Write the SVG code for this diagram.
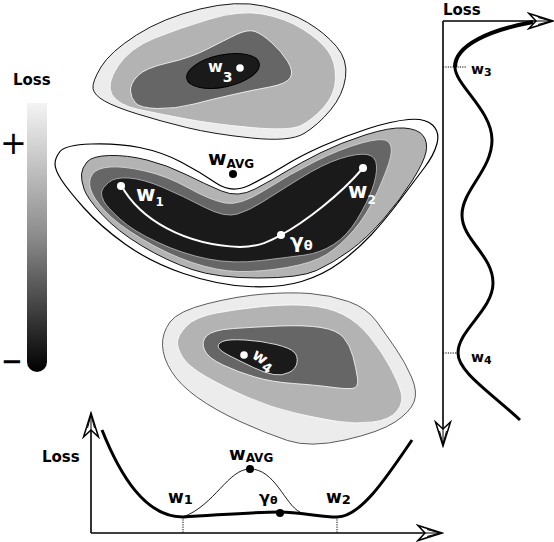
<svg xmlns="http://www.w3.org/2000/svg" width="554" height="542" viewBox="0 0 554 542">
<style>
.t{font-family:"DejaVu Sans","Liberation Sans",sans-serif;font-weight:bold;fill:#000}
.wt{fill:#fff}
.l1{fill:#ececec}
.l2{fill:#b3b3b3}
.l3{fill:#666}
.l4{fill:#1a1a1a}
.ax{fill:none;stroke:#000;stroke-width:1.6}
.dot{fill:none;stroke:#000;stroke-width:1;stroke-dasharray:1.2 1.2}
</style>
<defs>
<linearGradient id="cb" x1="0" y1="0" x2="0" y2="1">
<stop offset="0" stop-color="#f4f4f4"/>
<stop offset="0.5" stop-color="#8a8a8a"/>
<stop offset="1" stop-color="#000"/>
</linearGradient>
<marker id="arr" viewBox="-26 -9 28 18" refX="0" refY="0" markerWidth="28" markerHeight="18" markerUnits="userSpaceOnUse" orient="auto">
<path d="M0,0 L-24,-7.5 L-17,0 L-24,7.5 Z" fill="#fff" stroke="#000" stroke-width="1.5" stroke-linejoin="miter"/>
<path d="M-2,0 L-15,-3.5 M-2,0 L-15,3.5 M-2,0 L-17,0" stroke="#000" stroke-width="1"/>
</marker>
</defs>

<g id="colorbar">
<text class="t" x="13" y="85" font-size="15">Loss</text>
<path d="M27,103 H47 V362 A10,10 0 0 1 27,362 Z" fill="url(#cb)"/>
<text x="0" y="154" font-family="DejaVu Sans, sans-serif" font-size="32">+</text>
<text x="1" y="370" font-family="DejaVu Sans, sans-serif" font-weight="bold" font-size="26">−</text>
</g>

<g id="basin-w3">
<path class="l1" stroke="#000" stroke-width="0.9" d="M101,67 Q110,52 136.5,35 Q163,18 200,9 Q237,0 263.5,6 Q290,12 307.5,22.5 Q325,33 336.5,46.5 Q348,60 345.5,77.5 Q343,95 330.5,110 Q318,125 304,133.5 Q290,142 251.5,138 Q213,134 186.5,127.5 Q160,121 137.5,114 Q115,107 104.5,101 Q94,95 93,88.5 Q92,82 101,67 Z"/>
<path class="l2" stroke="#fff" stroke-width="0.8" d="M118,66 Q130,48 155,38 Q180,28 210,19 Q240,10 262.5,14 Q285,18 302.5,29 Q320,40 328,51 Q336,62 335.5,78.5 Q335,95 323.5,107.5 Q312,120 301,125.5 Q290,131 251.5,127.5 Q213,124 186.5,119 Q160,114 139,109.5 Q118,105 112,94.5 Q106,84 118,66 Z"/>
<path class="l3" stroke="#fff" stroke-width="0.8" d="M137.5,76 Q145,68 167.5,63 Q190,58 207.5,49 Q225,40 236.5,34.5 Q248,29 255,31.5 Q262,34 272,43 Q282,52 288,62 Q294,72 290,78 Q286,84 269.5,87 Q253,90 233,94.5 Q213,99 194,104 Q175,109 157.5,108.5 Q140,108 135.5,103 Q131,98 130.5,91 Q130,84 137.5,76 Z"/>
<ellipse class="l4" cx="223" cy="71" rx="37" ry="16" transform="rotate(-12 223 71)" stroke="#000" stroke-width="1"/>
<circle cx="240" cy="68" r="3.8" fill="#fff"/>
<text class="t wt" x="208" y="72" font-size="16">w<tspan font-size="14" dy="10">3</tspan></text>
</g>

<g id="basin-w1-w2">
<path fill="#fff" stroke="#000" stroke-width="1.2" d="M60,151.5 Q65,145 91,144 Q117,143 139.5,147.5 Q162,152 181,162 Q200,172 216,183 Q232,194 250,185 Q268,176 284,166 Q300,156 322.5,146 Q345,136 368.5,128.5 Q392,121 408.5,119.5 Q425,118 432.5,125 Q440,132 437,143.5 Q434,155 424.5,167.5 Q415,180 400,200 Q385,220 371,235 Q357,250 340,262.5 Q323,275 301.5,281.5 Q280,288 248.5,286.5 Q217,285 183.5,273.5 Q150,262 125,244 Q100,226 84,208 Q68,190 61.5,180 Q55,170 55,164 Q55,158 60,151.5 Z"/>
<path class="l2" stroke="#000" stroke-width="0.9" d="M87,162 Q92,156 109.5,155.5 Q127,155 147,160 Q167,165 186,174.5 Q205,184 221.5,191 Q238,198 255,189 Q272,180 286,171.5 Q300,163 320,153 Q340,143 365,135 Q390,127 404,128 Q418,129 423,135.5 Q428,142 426,152 Q424,162 412,181 Q400,200 383.5,219 Q367,238 350,250.5 Q333,263 316.5,270.5 Q300,278 258.5,278 Q217,278 192,269.5 Q167,261 142,246 Q117,231 102,214.5 Q87,198 84,189 Q81,180 81.5,174 Q82,168 87,162 Z"/>
<path class="l3" stroke="#ddd" stroke-width="0.8" d="M92.5,174 Q97,168 110,167 Q123,166 145,171 Q167,176 188.5,188 Q210,200 225,203 Q240,206 265,190 Q290,174 315,161.5 Q340,149 361.5,143 Q383,137 388,141.5 Q393,146 390.5,157 Q388,168 377.5,191.5 Q367,215 353.5,230.5 Q340,246 326.5,254.5 Q313,263 286.5,267.5 Q260,272 238.5,271.5 Q217,271 192,262.5 Q167,254 142,239 Q117,224 105,211 Q93,198 90.5,189 Q88,180 92.5,174 Z"/>
<path class="l4" stroke="#bbb" stroke-width="0.8" d="M108.5,182.5 Q115,177 129,178 Q143,179 163,187.5 Q183,196 204,207 Q225,218 237.5,214 Q250,210 262.5,202 Q275,194 299,179 Q323,164 340.5,158.5 Q358,153 367,154.5 Q376,156 376.5,166 Q377,176 372,189.5 Q367,203 357,219.5 Q347,236 333.5,244.5 Q320,253 305,255 Q290,257 261.5,260.5 Q233,264 208,259 Q183,254 158,242.5 Q133,231 120,219 Q107,207 104,201.5 Q101,196 101.5,192 Q102,188 108.5,182.5 Z"/>
<path d="M121,185 C140,220 185,245 240,247 C260,247 272,240 281,235 C305,222 340,195 363,168" fill="none" stroke="#fff" stroke-width="2"/>
<circle cx="121" cy="186" r="4" fill="#fff"/>
<circle cx="363" cy="168" r="4" fill="#fff"/>
<circle cx="281" cy="235" r="4" fill="#fff"/>
<text class="t wt" x="136" y="201" font-size="21">w<tspan font-size="12" dy="5">1</tspan></text>
<text class="t wt" x="348" y="198" font-size="21">w<tspan font-size="12" dy="6">2</tspan></text>
<text class="t wt" x="290" y="248" font-size="20">γ<tspan font-size="13" dy="2">θ</tspan></text>
<text class="t" x="208" y="165" font-size="20">w<tspan font-size="12" dy="3">AVG</tspan></text>
<circle cx="233" cy="174" r="4" fill="#000"/>
</g>

<g id="basin-w4">
<path class="l1" stroke="#333" stroke-width="0.8" d="M170,322 Q178,311 208,303.5 Q238,296 264,294 Q290,292 310,293.5 Q330,295 348.5,301.5 Q367,308 377,322 Q387,336 396,349 Q405,362 411.5,377 Q418,392 414,402 Q410,412 395,422 Q380,432 345,440 Q310,448 287.5,440.5 Q265,433 240,421.5 Q215,410 197.5,397.5 Q180,385 171.5,371.5 Q163,358 162.5,345.5 Q162,333 170,322 Z"/>
<path class="l2" stroke="#fff" stroke-width="0.8" d="M186.5,326 Q195,317 216.5,313 Q238,309 263,306.5 Q288,304 308,305.5 Q328,307 343,314.5 Q358,322 370,337 Q382,352 390,367 Q398,382 401,392 Q404,402 397,411 Q390,420 372.5,422 Q355,424 338.5,421.5 Q322,419 297,413.5 Q272,408 247,397 Q222,386 205,376 Q188,366 182.5,357 Q177,348 177.5,341.5 Q178,335 186.5,326 Z"/>
<path class="l3" stroke="#fff" stroke-width="0.8" d="M206.5,336 Q212,330 233.5,328.5 Q255,327 280,326 Q305,325 321,327.5 Q337,330 343.5,337.5 Q350,345 353,356.5 Q356,368 357.5,378 Q359,388 352,388.5 Q345,389 330,387 Q315,385 293.5,383.5 Q272,382 255,377 Q238,372 223,365 Q208,358 204.5,350 Q201,342 206.5,336 Z"/>
<path class="l4" stroke="#fff" stroke-width="0.8" d="M222.5,341.5 Q228,339 245,340 Q262,341 276,344.5 Q290,348 294,352 Q298,356 297,362.5 Q296,369 289,372.5 Q282,376 273.5,374.5 Q265,373 253.5,367.5 Q242,362 231,356.5 Q220,351 218.5,347.5 Q217,344 222.5,341.5 Z"/>
<circle cx="244" cy="355" r="3.8" fill="#fff"/>
<text class="t wt" font-size="16" transform="translate(251,357) rotate(35)">w<tspan font-size="13" dy="4">4</tspan></text>
</g>

<g id="plot-right">
<text class="t" x="443" y="15" font-size="15">Loss</text>
<line class="ax" x1="443" y1="21" x2="443" y2="446" marker-end="url(#arr)"/>
<line class="ax" x1="443" y1="21" x2="553" y2="21" marker-end="url(#arr)"/>
<path d="M520,420 C490,392 458,372 458,353 C458,330 493,310 493,283 C493,255 462,240 462,215 C462,190 492,170 492,140 C492,110 455,85 455,67" fill="none" stroke="#000" stroke-width="3"/>
<path d="M455,67 C455,45 490,30 533,22" fill="none" stroke="#000" stroke-width="4"/>
<line class="dot" x1="443" y1="67" x2="467" y2="67"/>
<line class="dot" x1="443" y1="353" x2="460" y2="353"/>
<text class="t" x="471" y="74" font-size="14">w<tspan font-size="11" dy="2">3</tspan></text>
<text class="t" x="471" y="362" font-size="14">w<tspan font-size="11" dy="2">4</tspan></text>
</g>

<g id="plot-bottom">
<text class="t" x="42" y="462" font-size="15">Loss</text>
<line class="ax" x1="91" y1="533" x2="91" y2="413" marker-end="url(#arr)"/>
<line class="ax" x1="91" y1="533" x2="442" y2="533" marker-end="url(#arr)"/>
<path d="M183,517 C215,505 228,469 250,469 C275,469 285,505 300,512" fill="none" stroke="#000" stroke-width="0.9"/>
<path d="M102,430 C120,475 145,517 183,517 C220,515 250,512 280,512 C300,512 320,517 337,517 C360,517 385,480 412,440" fill="none" stroke="#000" stroke-width="3"/>
<line class="dot" x1="183" y1="517" x2="183" y2="533"/>
<line class="dot" x1="337" y1="517" x2="337" y2="533"/>
<circle cx="250" cy="469" r="4" fill="#000"/>
<circle cx="280" cy="513" r="4" fill="#000"/>
<text class="t" x="168" y="503" font-size="17">w<tspan font-size="13" dy="1">1</tspan></text>
<text class="t" x="326" y="503" font-size="17">w<tspan font-size="13" dy="1">2</tspan></text>
<text class="t" x="259" y="503" font-size="16">γ<tspan font-size="11" dy="1">θ</tspan></text>
<text class="t" x="229" y="460" font-size="18">w<tspan font-size="12" dy="2">AVG</tspan></text>
</g>
</svg>
